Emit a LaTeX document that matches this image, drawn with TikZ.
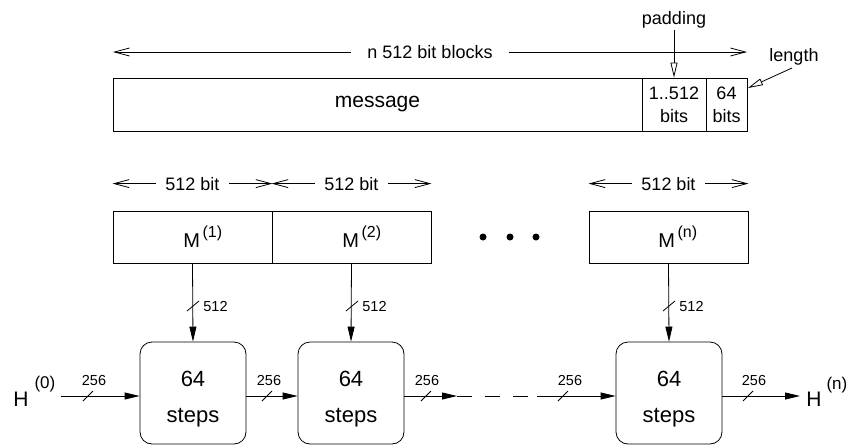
\documentclass[tikz,border=0pt]{standalone}
\usepackage{fontspec}
\setmainfont{Liberation Sans}
\usetikzlibrary{arrows.meta,calc}
\begin{document}
\begin{tikzpicture}[x=1pt,y=-1pt,line width=0.8pt,
  blk/.style={draw,rectangle,inner sep=0pt,minimum height=52pt,minimum width=159pt},
  stepbox/.style={draw,rectangle,rounded corners=12pt,inner sep=0pt,minimum width=106pt,minimum height=102pt},
  dimarrow/.style={{Straight Barb[length=15pt,width=8pt,line width=0.8pt]}-{Straight Barb[length=15pt,width=8pt,line width=0.8pt]}},
  dimlbl/.style={fill=white,inner xsep=9pt,inner ysep=0pt,font=\fontsize{18}{20}\selectfont},
  flow/.style={-{Triangle[length=15pt,width=7pt]}},
  opentip/.style={-{Triangle[open,length=15pt,width=7pt,line width=0.8pt]}},
  small/.style={font=\fontsize{14.5}{16}\selectfont,inner sep=0pt,anchor=base},
  big/.style={font=\fontsize{22}{24}\selectfont,inner sep=0pt,anchor=base},
  txt/.style={font=\fontsize{18}{23}\selectfont,inner sep=0pt}]
\useasboundingbox (0,0) rectangle (852,445);

% message bar
\node[draw,rectangle,inner sep=0pt,minimum width=529pt,minimum height=53pt,font=\fontsize{21}{24}\selectfont] (msg) at (377.5,104.5) {message};
\node[draw,rectangle,inner sep=0pt,minimum width=64pt,minimum height=53pt,txt,align=center] (pad) at (674,104.5) {1..512\\bits};
\node[draw,rectangle,inner sep=0pt,minimum width=41pt,minimum height=53pt,txt,align=center] (len) at (726.5,104.5) {64\\bits};

\coordinate (tl) at (113,52);
\coordinate (tr) at (747,52);
\draw[dimarrow] (tl) -- node[dimlbl,inner xsep=16pt] {n 512 bit blocks} (tr);

\node[txt,inner sep=1.5pt] (padlbl) at (674,20) {padding};
\draw[opentip] (padlbl.south) -- (pad.north);
\node[txt] (lenlbl) at (794,57) {length};
\coordinate (lenstart) at (792,68);
\coordinate (lentip) at (748,88);
\draw[opentip] (lenstart) -- (lentip);

% message blocks
\node[blk] (M1) at (192.5,237) {};
\node[blk] (M2) at (351.5,237) {};
\node[blk] (Mn) at (668.5,237) {};
\node[font=\fontsize{20}{22}\selectfont,inner sep=0pt,anchor=base west] (M1t) at (183,247) {M\hspace{2.5pt}\raisebox{9.5pt}{\fontsize{16}{18}\selectfont(1)}};
\node[font=\fontsize{20}{22}\selectfont,inner sep=0pt,anchor=base west] (M2t) at (342,247) {M\hspace{2.5pt}\raisebox{9.5pt}{\fontsize{16}{18}\selectfont(2)}};
\node[font=\fontsize{20}{22}\selectfont,inner sep=0pt,anchor=base west] (Mnt) at (658,247) {M\hspace{2.5pt}\raisebox{9.5pt}{\fontsize{16}{18}\selectfont(n)}};

\draw[dimarrow] ([yshift=27pt]M1.north west) -- node[dimlbl] {512 bit} ([yshift=27pt]M1.north east);
\draw[dimarrow] ([yshift=27pt]M2.north west) -- node[dimlbl] {512 bit} ([yshift=27pt]M2.north east);
\draw[dimarrow] ([yshift=27pt]Mn.north west) -- node[dimlbl] {512 bit} ([yshift=27pt]Mn.north east);

\fill (483,237) circle (3.5pt) (510,237) circle (3.5pt) (536,237) circle (3.5pt);

% step boxes
\node[stepbox] (S1) at (193,393) {};
\node[stepbox] (S2) at (351,393) {};
\node[stepbox] (S3) at (669,393) {};
\node[big] (S1a) at (193,386) {64};
\node[big] (S1b) at (193,422) {steps};
\node[big] (S2a) at (351,386) {64};
\node[big] (S2b) at (351,422) {steps};
\node[big] (S3a) at (669,386) {64};
\node[big] (S3b) at (669,422) {steps};

% vertical inputs
\draw[flow] (M1.south) -- (S1.north);
\draw[flow] (M2.south) -- (S2.north);
\draw[flow] (Mn.south) -- (S3.north);
\foreach \x in {193,352,669}{
  \draw (\x-6,311) -- (\x+6,301);
  \node[small,anchor=base west] at (\x+10,311) {512};
}

% chaining values
\node[font=\fontsize{21}{24}\selectfont,inner sep=0pt,anchor=base west] (H0) at (13,406) {H\hspace{6pt}\raisebox{18pt}{\fontsize{17}{19}\selectfont(0)}};
\node[font=\fontsize{21}{24}\selectfont,inner sep=0pt,anchor=base west] (Hn) at (806,406) {H\hspace{5pt}\raisebox{17pt}{\fontsize{17}{19}\selectfont(n)}};
\coordinate (h0) at (61,396);
\coordinate (hn) at (800,396);
\coordinate (d1) at (457,396);
\coordinate (d2) at (537,396);

\draw[flow] (h0) -- ([yshift=-3pt]S1.west);
\draw[flow] ([yshift=-3pt]S1.east) -- ([yshift=-3pt]S2.west);
\draw[flow] ([yshift=-3pt]S2.east) -- (d1);
\draw[dash pattern=on 15pt off 13pt] (d1) -- (d2);
\draw[flow] (d2) -- ([yshift=-3pt]S3.west);
\draw[flow] ([yshift=-3pt]S3.east) -- (hn);
\foreach \x/\l in {88/94,267/269,426/427,563/570,748/754}{
  \draw (\x-5,401) -- (\x+5,391);
  \node[small] at (\l,385) {256};
}
\end{tikzpicture}
\end{document}
